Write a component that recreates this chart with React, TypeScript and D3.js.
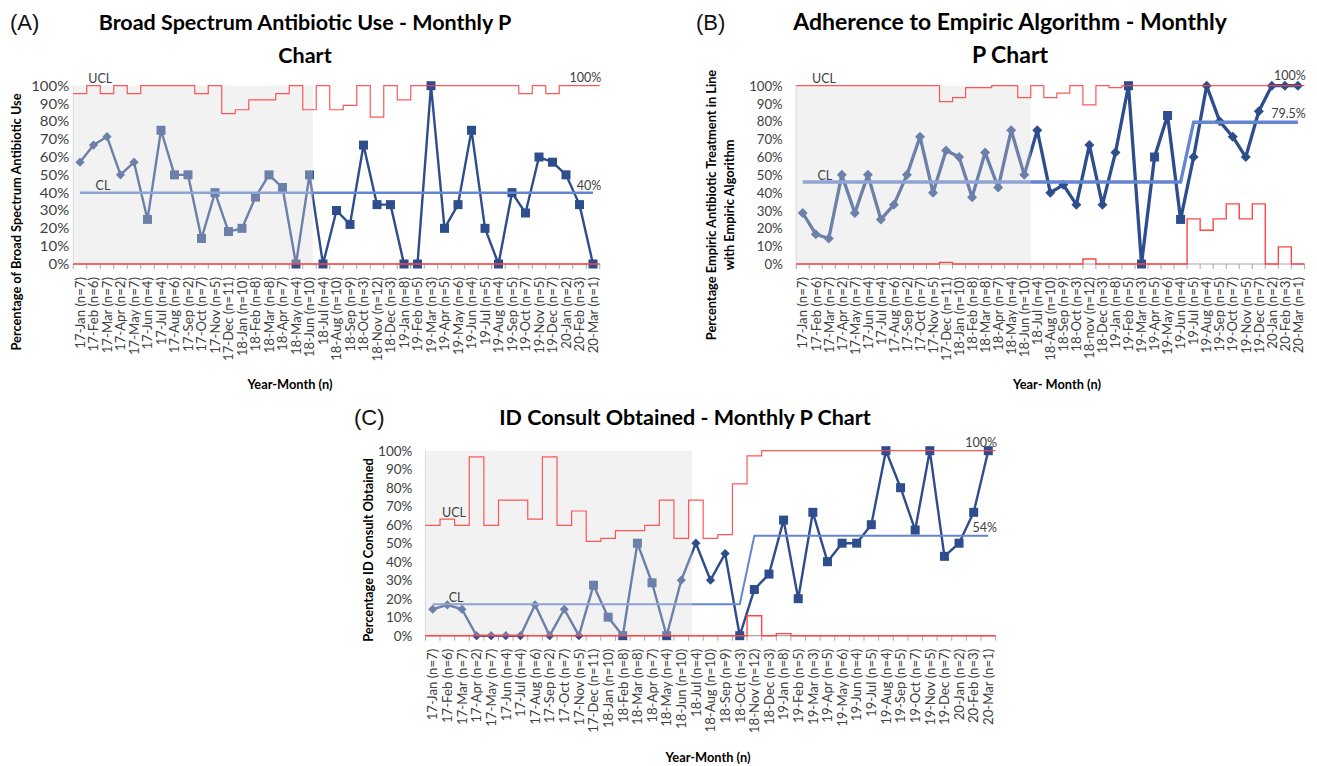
import React from "react";
import * as d3 from "d3";

// ---------- DATA ----------
const months = [
  "17-Jan","17-Feb","17-Mar","17-Apr","17-May","17-Jun","17-Jul","17-Aug","17-Sep","17-Oct","17-Nov","17-Dec",
  "18-Jan","18-Feb","18-Mar","18-Apr","18-May","18-Jun","18-Jul","18-Aug","18-Sep","18-Oct","18-Nov","18-Dec",
  "19-Jan","19-Feb","19-Mar","19-Apr","19-May","19-Jun","19-Jul","19-Aug","19-Sep","19-Oct","19-Nov","19-Dec",
  "20-Jan","20-Feb","20-Mar"
];
const monthsB = [
  "17-Jan","17-Feb","17-Mar","17-Apr","17-May","17-Jun","17-Jul","17-Aug","17-Sep","17-Oct","17-Nov","17-Dec",
  "18-Jan","18-Feb","18-Mar","18-Apr","18-May","18-Jun","18-Jul","18-Aug","18-Sep","18-Oct","18-nov","18-Dec",
  "19-Jan","19-Feb","19-Mar","19-Apr","19-May","19-Jun","19-Jul","19-Aug","19-Sep","19-Oct","19-Nov","19-Dec",
  "20-Jan","20-Feb","20-Mar"
];
const counts = [7,6,7,2,7,4,4,6,2,7,5,11, 10,8,8,7,4,10,4,10,9,3,12,3, 8,5,3,5,6,4,5,4,5,7,5,7, 2,3,1];

// (A) Broad spectrum antibiotic use, %
const pctA = [57.1,66.7,71.4,50,57.1,25,75,50,50,14.3,40,18.2, 20,37.5,50,42.9,0,50,0,30,22.2,66.7,33.3,33.3, 0,0,100,20,33.3,75,20,0,40,28.6,60,57.1, 50,33.3,0];
const uclA = [95.5,100,95.5,100,95.5,100,100,100,100,95.5,100,84.3, 86.5,92,92,95.5,100,86.5,100,86.5,89,100,82.4,100, 92,100,100,100,100,100,100,100,100,95.5,100,95.5, 100,100,100];
const lclA = [0,0,0,0,0,0,0,0,0,0,0,0, 0,0,0,0,0,0,0,0,0,0,0,0, 0,0,0,0,0,0,0,0,0,0,0,0, 0,0,0];
const clA = [40,40,40,40,40,40,40,40,40,40,40,40, 40,40,40,40,40,40,40,40,40,40,40,40, 40,40,40,40,40,40,40,40,40,40,40,40, 40,40,40];
const markA = ["D","D","D","D","D","S","S","S","S","S","S","S", "S","S","S","S","S","S","S","S","S","S","S","S", "S","S","S","S","S","S","S","S","S","S","S","S", "S","S","S"];

// (B) Adherence to empiric algorithm, %
const pctB = [28.6,16.7,14.3,50,28.6,50,25,33.3,50,71.4,40,63.6, 60,37.5,62.5,42.9,75,50,75,40,44.4,33.3,66.7,33.3, 62.5,100,0,60,83.3,25,60,100,80,71.4,60,85.7, 100,100,100];
const uclB = [100,100,100,100,100,100,100,100,100,100,100,91.1, 93.3,98.9,98.9,100,100,93.3,100,93.3,95.8,100,89.2,100, 98.9,100,100,100,100,100,100,100,100,100,100,100, 100,100,100];
const lclB = [0,0,0,0,0,0,0,0,0,0,0,0.9, 0,0,0,0,0,0,0,0,0,0,2.8,0, 0,0,0,0,0,0,25.3,18.9,25.3,33.7,25.3,33.7, 0,9.6,0];
const clB = [46,46,46,46,46,46,46,46,46,46,46,46, 46,46,46,46,46,46,46,46,46,46,46,46, 46,46,46,46,46,46,79.5,79.5,79.5,79.5,79.5,79.5, 79.5,79.5,79.5];
const markB = ["D","D","D","D","D","D","D","D","D","D","D","D", "D","D","D","D","D","D","D","D","D","D","D","D", "D","S","S","S","S","S","D","D","D","D","D","D", "D","D","D"];

// (C) ID consult obtained, %
const pctC = [14.3,16.7,14.3,0,0,0,0,16.7,0,14.3,0,27.3, 10,0,50,28.6,0,30,50,30,44.4,0,25,33.3, 62.5,20,66.7,40,50,50,60,100,80,57.1,100,42.9, 50,66.7,100];
const uclC = [59.6,63,59.6,96.7,59.6,73.3,73.3,63,96.7,59.6,67.4,51, 52.6,56.8,56.8,59.6,73.3,52.6,73.3,52.6,54.6,82.1,97.2,100, 100,100,100,100,100,100,100,100,100,100,100,100, 100,100,100];
const lclC = [0,0,0,0,0,0,0,0,0,0,0,0, 0,0,0,0,0,0,0,0,0,0,10.8,0, 1.1,0,0,0,0,0,0,0,0,0,0,0, 0,0,0];
const clC = [17,17,17,17,17,17,17,17,17,17,17,17, 17,17,17,17,17,17,17,17,17,17,54,54, 54,54,54,54,54,54,54,54,54,54,54,54, 54,54,54];
const markC = ["D","D","D","D","D","D","D","D","D","D","D","S", "S","S","S","S","S","D","D","D","D","S","S","S", "S","S","S","S","S","S","S","S","S","S","S","S", "S","S","S"];

const yTicks = [0,10,20,30,40,50,60,70,80,90,100];

// ---------- STYLE ----------
const NAVY = "#2e4d8d";
const CLC = "#6485cf";
const RED = "#ff4545";
const TXT = "#404040";
const FONT = "Lato, 'Open Sans', sans-serif";

type Cfg = {
  letter: string; letterX: number; letterY: number;
  title: string[]; titleX: number; titleY: number; titleGap: number; titleSize: number;
  yTitle: string[]; yTitleX: number[]; yTitleY: number;
  xTitle: string; xTitleX: number; xTitleY: number;
  months: string[]; pct: number[]; ucl: number[]; lcl: number[]; cl: number[]; marks: string[];
  left: number; right: number; top: number; bottom: number; shadeEnd: number;
  tickGap: number; tickSize: number; tickStretch: number;
  lw: number; clw: number; sq: number; dm: number;
  uclLab: [number, number, number]; clLab: [number, number, number];
  rightLabDy: [number, number];
};

function PChart({ c }: { c: Cfg }) {
  const labels = c.months.map((m, i) => `${m} (n=${counts[i]})`);
  const x = d3.scaleBand<string>().domain(labels).range([c.left, c.right]).padding(0);
  const bw = x.bandwidth();
  const y = d3.scaleLinear().domain([0, 100]).range([c.bottom, c.top]);
  const cx = (i: number) => (x(labels[i]) as number) + bw / 2;
  const ix = (f: number) => c.left + (f + 0.5) * bw;

  const line = d3.line<number>().x((_, i) => cx(i)).y((d) => y(d));
  const step = d3.line<[number, number]>().curve(d3.curveStepAfter);
  const stepPts = (arr: number[]): [number, number][] => [
    ...arr.map((v, i) => [x(labels[i]) as number, y(v)] as [number, number]),
    [c.right, y(arr[arr.length - 1])],
  ];
  const n = labels.length;
  const edges = d3.range(n + 1).map((i) => c.left + i * bw);

  return (
    <g>
      {/* panel letter + title */}
      <text x={c.letterX} y={c.letterY} fontFamily="'Liberation Sans', Arial, sans-serif" fontSize={22} fill="#111">{c.letter}</text>
      {c.title.map((t, k) => (
        <text key={k} x={c.titleX} y={c.titleY + k * c.titleGap} textAnchor="middle" fontFamily={FONT} fontWeight="bold" fontSize={c.titleSize} fill="#000">{t}</text>
      ))}
      {/* y axis title */}
      {c.yTitle.map((t, k) => (
        <text key={k} transform={`translate(${c.yTitleX[k]},${c.yTitleY}) rotate(-90)`} textAnchor="middle" dominantBaseline="central" fontFamily={FONT} fontWeight="bold" fontSize={12.8} fill="#000">{t}</text>
      ))}
      {/* x axis title */}
      <text x={c.xTitleX} y={c.xTitleY} textAnchor="middle" fontFamily={FONT} fontWeight="bold" fontSize={12.8} fill="#000">{c.xTitle}</text>

      {/* y tick labels */}
      {yTicks.map((v) => (
        <text key={v} transform={`translate(${c.left - c.tickGap},${y(v)}) scale(${c.tickStretch},1)`} textAnchor="end" dominantBaseline="central" fontFamily={FONT} fontSize={c.tickSize} fill={TXT}>{`${v}%`}</text>
      ))}
      {/* y axis line */}
      <line x1={c.left} x2={c.left} y1={c.top} y2={c.bottom} stroke="#d9d9d9" strokeWidth={1} />
      {/* x axis */}
      <line x1={c.left} x2={c.right} y1={c.bottom} y2={c.bottom} stroke="#a6a6a6" strokeWidth={1.2} />
      {edges.map((e, i) => (
        <line key={i} x1={e} x2={e} y1={c.bottom} y2={c.bottom + 5} stroke="#a6a6a6" strokeWidth={1} />
      ))}
      {labels.map((l, i) => (
        <text key={l} transform={`translate(${cx(i)},${c.bottom + 13}) rotate(-90)`} textAnchor="end" dy="0.36em" fontFamily={FONT} fontSize={13.2} fill={TXT}>{l}</text>
      ))}

      {/* data series */}
      <path d={line(c.pct) || ""} fill="none" stroke={NAVY} strokeWidth={c.lw} strokeLinejoin="round" />
      {c.pct.map((v, i) =>
        c.marks[i] === "S" ? (
          <rect key={i} x={cx(i) - c.sq / 2} y={y(v) - c.sq / 2} width={c.sq} height={c.sq} fill={NAVY} />
        ) : (
          <path key={i} d={`M${cx(i)},${y(v) - c.dm}L${cx(i) + c.dm},${y(v)}L${cx(i)},${y(v) + c.dm}L${cx(i) - c.dm},${y(v)}Z`} fill={NAVY} />
        )
      )}
      {/* centre line */}
      <path d={line(c.cl) || ""} fill="none" stroke={CLC} strokeWidth={c.clw} />

      {/* baseline shading overlay */}
      <rect x={c.left} y={c.top} width={c.shadeEnd * bw} height={c.bottom - c.top} fill="#dbdbdb" fillOpacity={0.36} />

      {/* control limits */}
      <path d={step(stepPts(c.lcl)) || ""} fill="none" stroke={RED} strokeWidth={1.4} />
      <path d={step(stepPts(c.ucl)) || ""} fill="none" stroke={RED} strokeWidth={1.2} strokeOpacity={0.9} />

      {/* data labels */}
      <text x={ix(c.uclLab[0])} y={y(c.uclLab[1]) - c.uclLab[2]} textAnchor="middle" fontFamily={FONT} fontSize={12.5} fill={TXT}>UCL</text>
      <text x={ix(c.clLab[0])} y={y(c.clLab[1]) - c.clLab[2]} textAnchor="middle" fontFamily={FONT} fontSize={12.5} fill={TXT}>CL</text>
      <text x={c.right + 1.5} y={y(d3.max(c.ucl) as number) - c.rightLabDy[0]} textAnchor="end" fontFamily={FONT} fontSize={12.5} fill={TXT}>{`${d3.max(c.ucl)}%`}</text>
      <text x={c.right + 1.5} y={y(c.cl[n - 1]) - c.rightLabDy[1]} textAnchor="end" fontFamily={FONT} fontSize={12.5} fill={TXT}>{`${c.cl[n - 1]}%`}</text>
    </g>
  );
}

const cfgA: Cfg = {
  letter: "(A)", letterX: 10, letterY: 30,
  title: ["Broad Spectrum Antibiotic Use - Monthly P", "Chart"], titleX: 305, titleY: 30, titleGap: 33, titleSize: 21.5,
  yTitle: ["Percentage of Broad Spectrum Antibiotic Use"], yTitleX: [16], yTitleY: 222,
  xTitle: "Year-Month (n)", xTitleX: 290, xTitleY: 389,
  months, pct: pctA, ucl: uclA, lcl: lclA, cl: clA, marks: markA,
  left: 73.25, right: 599.75, top: 85.7, bottom: 264, shadeEnd: 17.75,
  tickGap: 4, tickSize: 12.5, tickStretch: 1.2, lw: 2.4, clw: 2.5, sq: 9, dm: 4.6,
  uclLab: [1.5, 100, 3], clLab: [1.7, 40, 2.6], rightLabDy: [3.5, 2.5],
};
const cfgB: Cfg = {
  letter: "(B)", letterX: 696, letterY: 30,
  title: ["Adherence to Empiric Algorithm - Monthly", "P Chart"], titleX: 1010, titleY: 30, titleGap: 33, titleSize: 23,
  yTitle: ["Percentage Empiric Antibiotic Treatment in Line", "with Empiric Algorithm"], yTitleX: [711, 729], yTitleY: 205,
  xTitle: "Year- Month (n)", xTitleX: 1057, xTitleY: 389,
  months: monthsB, pct: pctB, ucl: uclB, lcl: lclB, cl: clB, marks: markB,
  left: 796.2, right: 1304.4, top: 85.7, bottom: 264, shadeEnd: 18,
  tickGap: 13.5, tickSize: 13.2, tickStretch: 1, lw: 3.3, clw: 3.3, sq: 9, dm: 5,
  uclLab: [1.63, 100, 3], clLab: [1.7, 46, 2], rightLabDy: [5.5, 4],
};
const cfgC: Cfg = {
  letter: "(C)", letterX: 354, letterY: 425,
  title: ["ID Consult Obtained - Monthly P Chart"], titleX: 685, titleY: 425, titleGap: 33, titleSize: 21.5,
  yTitle: ["Percentage ID Consult Obtained"], yTitleX: [368], yTitleY: 550,
  xTitle: "Year-Month (n)", xTitleX: 708, xTitleY: 762,
  months, pct: pctC, ucl: uclC, lcl: lclC, cl: clC, marks: markC,
  left: 425.4, right: 995.6, top: 450.7, bottom: 635.7, shadeEnd: 18.25,
  tickGap: 13, tickSize: 13.5, tickStretch: 1, lw: 2.4, clw: 2, sq: 9, dm: 4.6,
  uclLab: [1.46, 63, 2], clLab: [1.6, 17, 2], rightLabDy: [3.7, 3.8],
};

export default function App() {
  return (
    <svg width={1317} height={766} viewBox="0 0 1317 766" style={{ position: "absolute", left: 0, top: 0, background: "#fff" }}>
      <rect x={0} y={0} width={1317} height={766} fill="#fff" />
      <PChart c={cfgA} />
      <PChart c={cfgB} />
      <PChart c={cfgC} />
    </svg>
  );
}
